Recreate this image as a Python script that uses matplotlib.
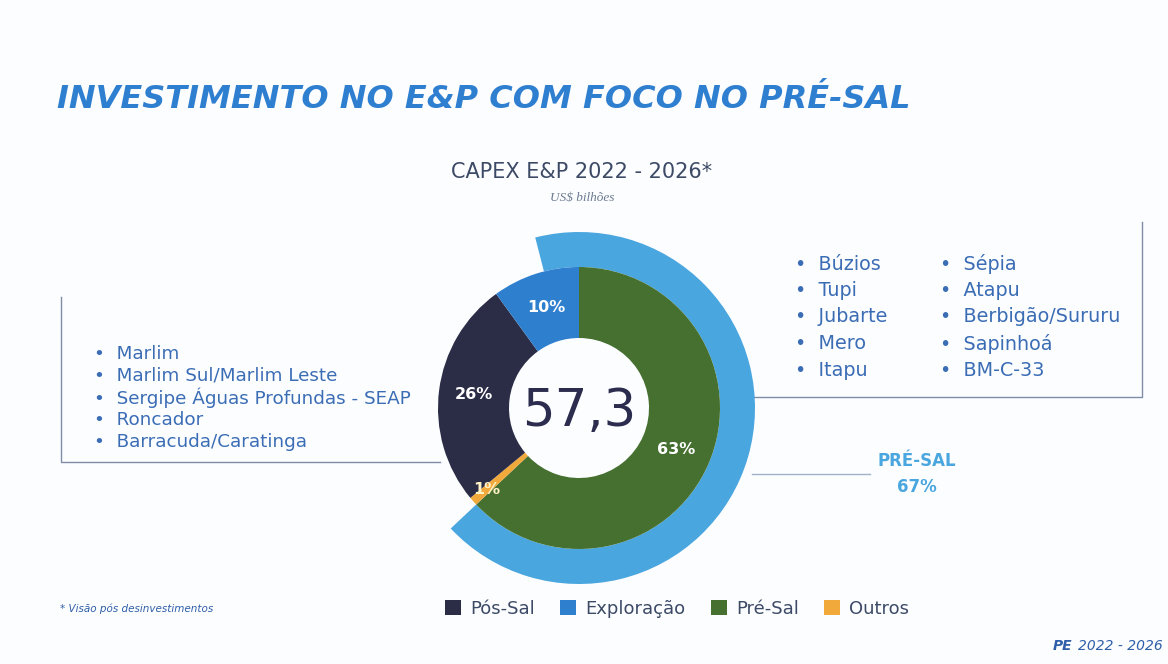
import numpy as np
import matplotlib.pyplot as plt

# dados do gráfico (US$ bilhões, % do total)
total = "57,3"
segmentos = ["Pré-Sal", "Outros", "Pós-Sal", "Exploração"]
percentuais = [63, 1, 26, 10]
cores = ["#45702f", "#f2a93b", "#2b2c45", "#2f7fcf"]
pre_sal_total = 67

ordem_legenda = ["Pós-Sal", "Exploração", "Pré-Sal", "Outros"]

campos_pos_sal = ["Marlim", "Marlim Sul/Marlim Leste", "Sergipe Águas Profundas - SEAP",
                  "Roncador", "Barracuda/Caratinga"]
campos_pre_sal_1 = ["Búzios", "Tupi", "Jubarte", "Mero", "Itapu"]
campos_pre_sal_2 = ["Sépia", "Atapu", "Berbigão/Sururu", "Sapinhoá", "BM-C-33"]

W, H = 1168, 664
fig = plt.figure(figsize=(W / 100, H / 100), dpi=100)
fig.patch.set_facecolor("#fcfdff")

# eixo "de fundo" em pixels para textos e linhas
bg = fig.add_axes([0, 0, 1, 1])
bg.set_xlim(0, W)
bg.set_ylim(H, 0)
bg.axis("off")

azul_titulo = "#2f7fd0"
azul_texto = "#3b6db5"
cinza = "#3c4a66"

bg.text(57, 100, "INVESTIMENTO NO E&P COM FOCO NO PRÉ-SAL", fontsize=23, fontweight="bold",
        fontstyle="italic", color=azul_titulo, va="center", ha="left")
bg.text(582, 172, "CAPEX E&P 2022 - 2026*", fontsize=15, color=cinza, ha="center", va="center")
bg.text(582, 198, "US$ bilhões", fontsize=9.5, color="#6b7a90", fontstyle="italic",
        ha="center", va="center", family="Liberation Serif")

# linhas das caixas
bg.plot([61, 61, 440], [297, 462, 462], color="#7f8ea6", lw=1)
bg.plot([722, 1142, 1142], [397, 397, 222], color="#7f8ea6", lw=1)
bg.plot([752, 870], [474, 474], color="#9fb2c8", lw=1)

for i, nome in enumerate(campos_pos_sal):
    bg.text(94, 354 + i * 22, "•  " + nome, fontsize=13.2, color=azul_texto, va="center")
for i, nome in enumerate(campos_pre_sal_1):
    bg.text(795, 264 + i * 26.5, "•  " + nome, fontsize=13.8, color=azul_texto, va="center")
for i, nome in enumerate(campos_pre_sal_2):
    bg.text(940, 264 + i * 26.5, "•  " + nome, fontsize=13.8, color=azul_texto, va="center")

bg.text(917, 461, "PRÉ-SAL", fontsize=12, fontweight="bold", color="#4aa6df", ha="center", va="center")
bg.text(917, 487, f"{pre_sal_total}%", fontsize=12, fontweight="bold", color="#4aa6df",
        ha="center", va="center")

bg.text(60, 609, "* Visão pós desinvestimentos", fontsize=7.5, fontstyle="italic",
        color="#2f5fa8", va="center")
bg.text(1163, 646, "2022 - 2026", fontsize=10, fontstyle="italic", color="#2f5fa8",
        ha="right", va="center")
bg.text(1072, 646, "PE", fontsize=10, fontstyle="italic", fontweight="bold", color="#2f5fa8",
        ha="right", va="center")

# donut
cx, cy, R = 579, 408, 176
ax = fig.add_axes([(cx - R) / W, (H - cy - R) / H, 2 * R / W, 2 * R / H])
r_in = 141 / R
r_hole = 70 / R

inicio_externo = 90 + 360 * (pre_sal_total - percentuais[0]) / 100
ext, _ = ax.pie([pre_sal_total, 100 - pre_sal_total], radius=1, startangle=inicio_externo,
                counterclock=False, colors=["#4aa6df", "none"],
                wedgeprops=dict(width=1 - r_in, linewidth=0))

wedges, _ = ax.pie(percentuais, radius=r_in, startangle=90, counterclock=False, colors=cores,
                   wedgeprops=dict(width=r_in - r_hole, linewidth=0))

for w, p in zip(wedges, percentuais):
    ang = np.deg2rad((w.theta1 + w.theta2) / 2)
    rr = 0.60 if p > 2 else 0.70
    cor = "white" if p > 2 else "#fff3c8"
    ax.text(rr * np.cos(ang), rr * np.sin(ang), f"{p}%", ha="center", va="center",
            fontsize=11.5, fontweight="bold", color=cor)

ax.text(0, -0.02, total, ha="center", va="center", fontsize=37, color="#2b2c4e")
ax.set_xlim(-1, 1)
ax.set_ylim(-1, 1)
ax.set_aspect("equal")

# legenda
mapa = dict(zip(segmentos, wedges))
leg = fig.legend([mapa[s] for s in ordem_legenda], ordem_legenda, loc="center",
                 bbox_to_anchor=(677 / W, 1 - 609 / H), ncol=4, frameon=False,
                 fontsize=13, handlelength=0.9, handleheight=0.9, handletextpad=0.5,
                 columnspacing=1.4)
for t in leg.get_texts():
    t.set_color(cinza)

fig.savefig("out.png", dpi=100, facecolor=fig.get_facecolor())
